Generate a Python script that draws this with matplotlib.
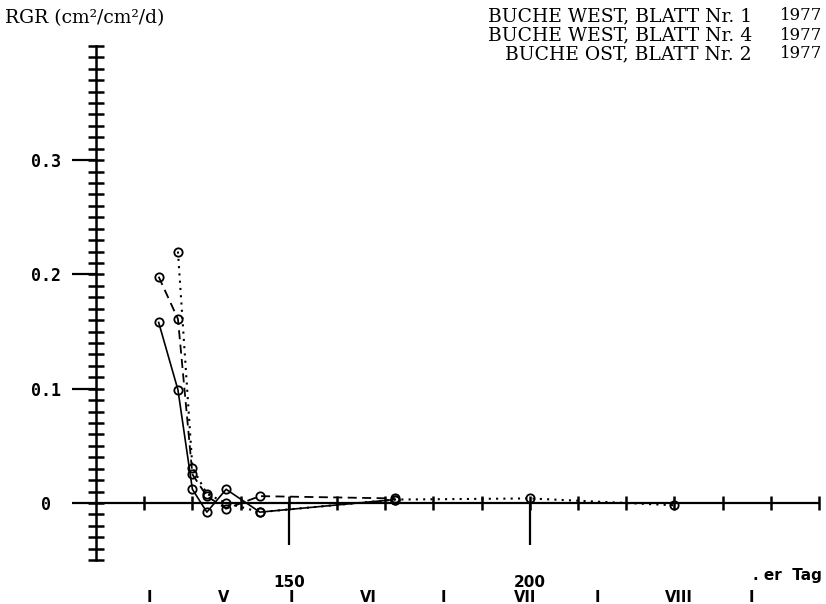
import matplotlib
matplotlib.use('Agg')
import matplotlib.pyplot as plt
from matplotlib.ticker import FixedLocator

# Messtage (Tag im Jahr) und RGR-Werte der drei Blaetter
tage_west1 = [123, 127, 130, 133, 137, 144, 172]
rgr_west1 = [0.158, 0.099, 0.012, -0.008, 0.012, -0.008, 0.003]

tage_west4 = [123, 127, 130, 133, 137, 144, 172]
rgr_west4 = [0.198, 0.161, 0.025, 0.006, -0.005, 0.006, 0.004]

tage_ost2 = [127, 130, 133, 137, 144, 172, 200, 230]
rgr_ost2 = [0.220, 0.031, 0.008, 0.000, -0.008, 0.003, 0.004, -0.002]

serien = ['BUCHE WEST, BLATT Nr. 1', 'BUCHE WEST, BLATT Nr. 4', 'BUCHE OST, BLATT Nr. 2']
jahr = '1977'

# Achsenbeschriftung
y_major = [0, 0.1, 0.2, 0.3]
y_major_labels = ['0', '0.1', '0.2', '0.3']
x_major = [150, 200]
x_minor = [120, 130, 140, 150, 160, 170, 180, 190, 200, 210, 220, 230, 240, 250, 260]
monat_pos = [121, 136.5, 150.5, 166.5, 182, 199, 214, 231, 246]
monat_labels = ['I', 'V', 'I', 'VI', 'I', 'VII', 'I', 'VIII', 'I']

# Pixel pro Einheit
px_tag = 4.82
px_rgr = 1143.0

fig = plt.figure(figsize=(8.26, 6.04), dpi=100)
ax = fig.add_axes([0, 0, 1, 1])
ax.set_xlim(110 - 96 / px_tag, 110 + 730 / px_tag)
ax.set_ylim(-101 / px_rgr, 503 / px_rgr)
ax.patch.set_alpha(0)

for s in ['top', 'right']:
    ax.spines[s].set_visible(False)
ax.spines['left'].set_position(('data', 110))
ax.spines['bottom'].set_position(('data', 0))
ax.spines['left'].set_bounds(-0.05, 0.40)
ax.spines['bottom'].set_bounds(110, 260)
ax.spines['left'].set_linewidth(1.8)
ax.spines['bottom'].set_linewidth(1.6)

# y-Achse: grosse Striche bei 0.1, kleine alle 0.01
ax.yaxis.remove_overlapping_locs = False
ax.xaxis.remove_overlapping_locs = False
ax.set_yticks(y_major)
ax.set_yticklabels(y_major_labels)
ax.yaxis.set_minor_locator(FixedLocator([round(-0.05 + 0.01 * i, 2) for i in range(46)]))
ax.tick_params(axis='y', which='major', direction='out', length=17, width=1.6, pad=19)
ax.tick_params(axis='y', which='minor', direction='inout', length=11.5, width=1.8)
for lab in ax.get_yticklabels():
    lab.set_ha('center')
    lab.set_family('DejaVu Sans Mono')
    lab.set_fontweight('bold')
    lab.set_fontsize(12)

# x-Achse
ax.set_xticks(x_major)
ax.set_xticklabels([str(v) for v in x_major])
ax.xaxis.set_minor_locator(FixedLocator(x_minor))
ax.tick_params(axis='x', which='major', direction='out', length=30, width=1.6, pad=22)
ax.tick_params(axis='x', which='minor', direction='inout', length=10, width=1.8)
for lab in ax.get_xticklabels():
    lab.set_fontweight('bold')
    lab.set_fontsize(11)

# Monate unter der Achse
for x, m in zip(monat_pos, monat_labels):
    ax.text(x, -0.0825, m, ha='center', va='center', fontsize=10.5, fontweight='bold')
ax.text(253.5, -0.063, '. er  Tag', ha='center', va='center', fontsize=11, fontweight='bold')

# Kurven
stil = dict(color='black', marker='o', mfc='none', mec='black', ms=6, mew=1.3)
ax.plot(tage_west1, rgr_west1, ls='-', lw=1.2, **stil)
ax.plot(tage_west4, rgr_west4, ls=(0, (5, 3)), lw=1.3, **stil)
ax.plot(tage_ost2, rgr_ost2, ls=(0, (1, 2.5)), lw=1.5, **stil)

# Texte oben
fig.text(5 / 826, 1 - 18 / 604, 'RGR (cm²/cm²/d)', ha='left', va='center',
         family='DejaVu Serif', fontsize=13.5)
for i, s in enumerate(serien):
    y = 1 - (16 + 19 * i) / 604
    fig.text(752 / 826, y, s, ha='right', va='center', family='DejaVu Serif', fontsize=13.5)
    fig.text(822 / 826, y, jahr, ha='right', va='center', family='DejaVu Serif', fontsize=12)

fig.savefig('out.png', dpi=100)
